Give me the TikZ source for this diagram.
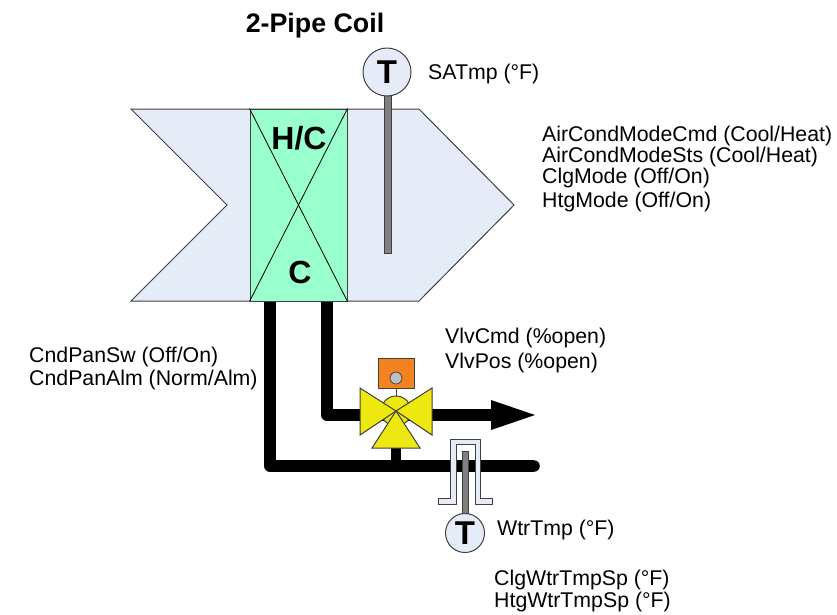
\documentclass[tikz,border=0pt]{standalone}
\usepackage{fontspec}
\setmainfont{Liberation Sans}
\definecolor{hv-duct}{RGB}{230,236,247}
\definecolor{hv-coil}{RGB}{153,255,204}
\definecolor{hv-orange}{RGB}{245,130,32}
\definecolor{hv-yellow}{RGB}{238,232,17}
\definecolor{hv-stem}{RGB}{128,128,128}
\definecolor{hv-edge}{RGB}{64,64,64}
\usetikzlibrary{positioning}

\begin{document}
\begin{tikzpicture}[x=1pt,y=-1pt,
    label/.style={anchor=west,inner sep=0pt,yshift=-2pt,font=\fontsize{21.3}{21.3}\selectfont},
    bigtext/.style={inner sep=0pt,font=\fontsize{32}{32}\selectfont\bfseries},
    sensor/.style={circle,draw=hv-edge,fill=hv-duct,line width=1pt,minimum size=#1,inner sep=0pt,font=\fontsize{33}{33}\selectfont\bfseries},
    stem/.style={draw=hv-edge,fill=hv-stem,line width=.7pt},
    pipe/.style={line width=#1,line join=round},
    part/.style={draw=hv-edge,line width=1pt}]
    \useasboundingbox (0,0) rectangle (837,614);
    \filldraw[part,fill=hv-duct] (131,109) -- (419,109) -- (514,205) -- (419,301) -- (131,301) -- (227,205) -- cycle;
    \node[part,fill=hv-coil,minimum width=97pt,minimum height=192pt,inner sep=0pt] (coil) at (298.5,205) {};
    \draw[line width=.8pt] (coil.north west) -- (coil.south east);
    \draw[line width=.8pt] (coil.north east) -- (coil.south west);
    \node[bigtext] (coilhc) at (299,138) {H/C};
    \node[bigtext] (coilc) at (300,272) {C};
    \node[inner sep=0pt,font=\fontsize{26.8}{26.8}\selectfont\bfseries] (title) at (315,26) {2-Pipe Coil};

    \filldraw[stem] (384,90) rectangle (391,253);
    \node[sensor=48pt] (supT) at (387,72) {T};
    \node[label] (satmp) at (428,72) {SATmp (°F)};

    \node[label] (modecmd) at (542,134) {AirCondModeCmd (Cool/Heat)};
    \node[label] (modests) at (542,155) {AirCondModeSts (Cool/Heat)};
    \node[label] (clgmode) at (542,176) {ClgMode (Off/On)};
    \node[label] (htgmode) at (542,200) {HtgMode (Off/On)};

    \coordinate (lower0) at (270,302);
    \coordinate (lower1) at (270,466);
    \coordinate (lower2) at (534,466);
    \coordinate (upper0) at (327,302);
    \coordinate (upper1) at (327,415);
    \coordinate (upper2) at (492,415);
    \coordinate (tip) at (535,415);
    \coordinate (vm) at (396,411);
    \coordinate (branch) at (396,466);
    \draw[pipe=11.5pt] (lower0) -- (lower1) -- (lower2);
    \fill (lower2) circle (5.75pt);
    \draw[pipe=11.5pt] (upper0) -- (upper1) -- (upper2);
    \fill (491,400) -- (tip) -- (491,430) -- cycle;
    \draw[pipe=10pt] (vm) -- (branch);

    \draw[hv-edge,line width=1pt] (396,388) -- (vm);
    \node[part,fill=hv-orange,minimum width=36pt,minimum height=30pt,inner sep=0pt] (actuator) at (396,373) {};
    \node[circle,draw=hv-edge,fill=hv-stem!50,line width=.8pt,minimum size=12pt,inner sep=0pt] (knob) at (396,378) {};
    \filldraw[part,fill=hv-yellow] (vm) circle (15pt);
    \filldraw[part,fill=hv-yellow] (vm) -- (360,388) -- (360,435) -- cycle;
    \filldraw[part,fill=hv-yellow] (vm) -- (432,388) -- (432,435) -- cycle;
    \filldraw[part,fill=hv-yellow] (vm) -- (372,448) -- (420,448) -- cycle;

    \filldraw[part,fill=hv-duct] (438,498) -- (450,498) -- (450,439) -- (480,439) -- (480,498) -- (492,498) -- (492,504) -- (475,504) -- (475,444) -- (456,444) -- (456,504) -- (438,504) -- cycle;
    \filldraw[stem] (462,451) rectangle (468,515);
    \node[sensor=39pt] (wtrT) at (465,533) {T};
    \node[label] (wtrtmp) at (497,528) {WtrTmp (°F)};

    \node[label] (vlvcmd) at (445,336) {VlvCmd (\%open)};
    \node[label] (vlvpos) at (445,361) {VlvPos (\%open)};
    \node[label] (pansw) at (29,355) {CndPanSw (Off/On)};
    \node[label] (panalm) at (29,378) {CndPanAlm (Norm/Alm)};
    \node[label] (clgsp) at (494,578) {ClgWtrTmpSp (°F)};
    \node[label] (htgsp) at (494,600) {HtgWtrTmpSp (°F)};
\end{tikzpicture}
\end{document}
